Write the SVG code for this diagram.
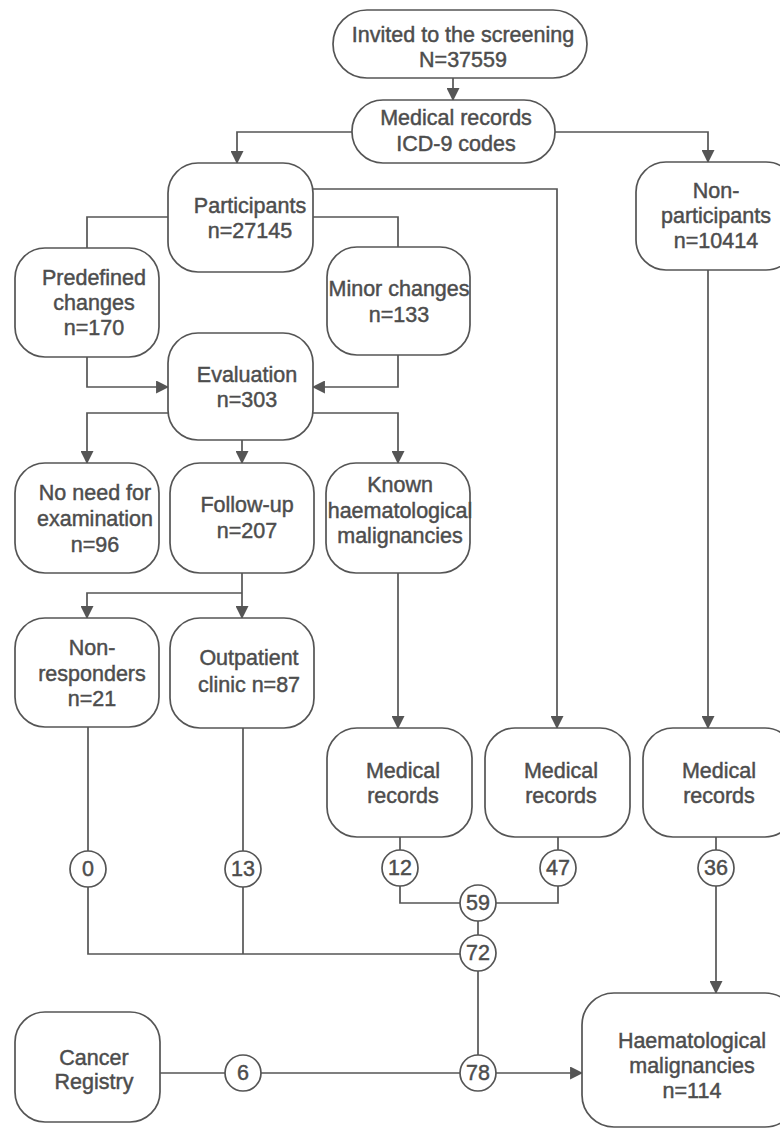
<svg xmlns="http://www.w3.org/2000/svg" width="780" height="1133" viewBox="0 0 780 1133">
<defs>
<marker id="ah" viewBox="0 0 12 12" refX="11" refY="6" markerWidth="13" markerHeight="13" markerUnits="userSpaceOnUse" orient="auto">
<path d="M0,0 L12,6 L0,12 z" fill="#555"/>
</marker>
<style>
.box{fill:#fff;stroke:#555;stroke-width:1.7}
.t{font-family:"Liberation Sans",Arial,sans-serif;font-size:21.5px;fill:#4d4d4d;stroke:#4d4d4d;stroke-width:0.45;text-anchor:middle}
.c{fill:#fff;stroke:#555;stroke-width:1.7}
.ln{fill:none;stroke:#555;stroke-width:1.7}
.ar{fill:none;stroke:#555;stroke-width:1.7;marker-end:url(#ah)}
</style>
</defs>
<rect width="780" height="1133" fill="#fff"/>
<g id="connectors">
<path class="ar" d="M453,78 V100"/>
<path class="ar" d="M352,132 H237 V163"/>
<path class="ar" d="M555,132 H708 V162"/>
<path class="ar" d="M313,189 H557 V728"/>
<path class="ln" d="M313,217 H398 V247"/>
<path class="ln" d="M168,217 H87 V248"/>
<path class="ar" d="M87,357 V387 H168"/>
<path class="ar" d="M398,355 V387 H313"/>
<path class="ar" d="M168,413 H87 V463"/>
<path class="ar" d="M242,440 V463"/>
<path class="ar" d="M313,413 H398 V463"/>
<path class="ar" d="M242,573 V618"/>
<path class="ar" d="M242,593 H87 V618"/>
<path class="ar" d="M398,573 V728"/>
<path class="ar" d="M708,270 V728"/>
<path class="ln" d="M88,727 V851"/>
<path class="ln" d="M243,728 V851"/>
<path class="ln" d="M400,837 V850"/>
<path class="ln" d="M558,837 V850"/>
<path class="ln" d="M716,837 V850"/>
<path class="ln" d="M88,887 V954 H460"/>
<path class="ln" d="M243,887 V954"/>
<path class="ln" d="M400,886 V903 H460"/>
<path class="ln" d="M558,886 V903 H496"/>
<path class="ln" d="M478,921 V935"/>
<path class="ln" d="M478,971 V1055"/>
<path class="ln" d="M160,1073 H225"/>
<path class="ln" d="M261,1073 H460"/>
<path class="ar" d="M496,1073 H582"/>
<path class="ar" d="M716,886 V993"/>
</g>
<g id="invited"><rect class="box" x="333" y="10" width="254" height="68" rx="34"/><text class="t" x="463" y="42">Invited to the screening</text><text class="t" x="463" y="67">N=37559</text></g>
<g id="icd"><rect class="box" x="352" y="100" width="203" height="63" rx="31"/><text class="t" x="456" y="125">Medical records</text><text class="t" x="456" y="151">ICD-9 codes</text></g>
<g id="participants"><rect class="box" x="168" y="163" width="145" height="109" rx="30"/><text class="t" x="250" y="213">Participants</text><text class="t" x="250" y="238">n=27145</text></g>
<g id="nonparticipants"><rect class="box" x="636" y="162" width="160" height="108" rx="30"/><text class="t" x="716" y="198">Non-</text><text class="t" x="716" y="223">participants</text><text class="t" x="716" y="248">n=10414</text></g>
<g id="predefined"><rect class="box" x="15" y="248" width="144" height="109" rx="30"/><text class="t" x="94" y="285">Predefined</text><text class="t" x="94" y="310">changes</text><text class="t" x="94" y="335">n=170</text></g>
<g id="minor"><rect class="box" x="327" y="247" width="143" height="108" rx="30"/><text class="t" x="399" y="296">Minor changes</text><text class="t" x="399" y="322">n=133</text></g>
<g id="evaluation"><rect class="box" x="168" y="333" width="145" height="107" rx="30"/><text class="t" x="247" y="382">Evaluation</text><text class="t" x="247" y="407">n=303</text></g>
<g id="noneed"><rect class="box" x="15" y="463" width="144" height="110" rx="30"/><text class="t" x="95" y="500">No need for</text><text class="t" x="95" y="526">examination</text><text class="t" x="95" y="552">n=96</text></g>
<g id="followup"><rect class="box" x="170" y="463" width="144" height="110" rx="30"/><text class="t" x="247" y="512">Follow-up</text><text class="t" x="247" y="538">n=207</text></g>
<g id="known"><rect class="box" x="326" y="463" width="144" height="110" rx="30"/><text class="t" x="400" y="492">Known</text><text class="t" x="400" y="518">haematological</text><text class="t" x="400" y="543">malignancies</text></g>
<g id="nonresponders"><rect class="box" x="15" y="618" width="144" height="109" rx="30"/><text class="t" x="92" y="655">Non-</text><text class="t" x="92" y="681">responders</text><text class="t" x="92" y="706">n=21</text></g>
<g id="outpatient"><rect class="box" x="170" y="618" width="144" height="110" rx="30"/><text class="t" x="249" y="665">Outpatient</text><text class="t" x="249" y="692">clinic n=87</text></g>
<g id="medical1"><rect class="box" x="327" y="728" width="145" height="109" rx="30"/><text class="t" x="403" y="778">Medical</text><text class="t" x="403" y="803">records</text></g>
<g id="medical2"><rect class="box" x="485" y="728" width="145" height="109" rx="30"/><text class="t" x="561" y="778">Medical</text><text class="t" x="561" y="803">records</text></g>
<g id="medical3"><rect class="box" x="643" y="728" width="152" height="109" rx="30"/><text class="t" x="719" y="778">Medical</text><text class="t" x="719" y="803">records</text></g>
<g id="n0"><circle class="c" cx="88" cy="869" r="18"/><text class="t" x="88" y="876">0</text></g>
<g id="n13"><circle class="c" cx="243" cy="869" r="18"/><text class="t" x="243" y="876">13</text></g>
<g id="n12"><circle class="c" cx="400" cy="868" r="18"/><text class="t" x="400" y="875">12</text></g>
<g id="n47"><circle class="c" cx="558" cy="868" r="18"/><text class="t" x="558" y="875">47</text></g>
<g id="n36"><circle class="c" cx="716" cy="868" r="18"/><text class="t" x="716" y="875">36</text></g>
<g id="n59"><circle class="c" cx="478" cy="903" r="18"/><text class="t" x="478" y="910">59</text></g>
<g id="n72"><circle class="c" cx="478" cy="953" r="18"/><text class="t" x="478" y="960">72</text></g>
<g id="n78"><circle class="c" cx="478" cy="1073" r="18"/><text class="t" x="478" y="1080">78</text></g>
<g id="n6"><circle class="c" cx="243" cy="1073" r="18"/><text class="t" x="243" y="1080">6</text></g>
<g id="registry"><rect class="box" x="15" y="1012" width="145" height="110" rx="30"/><text class="t" x="94" y="1065">Cancer</text><text class="t" x="94" y="1089">Registry</text></g>
<g id="haem"><rect class="box" x="582" y="993" width="215" height="134" rx="32"/><text class="t" x="692" y="1048">Haematological</text><text class="t" x="692" y="1073">malignancies</text><text class="t" x="692" y="1098">n=114</text></g>
</svg>
